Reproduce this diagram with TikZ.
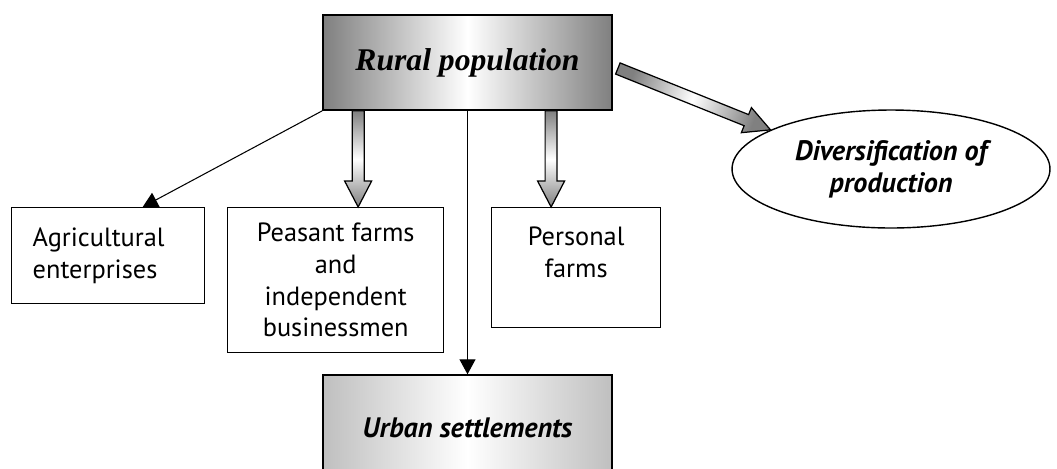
\documentclass[tikz,border=0pt]{standalone}
\usepackage{fontspec}
\setmainfont{Liberation Serif}
\setsansfont{PT Sans}
\usetikzlibrary{shapes.geometric,arrows.meta,calc,positioning}

\newcommand{\fatarrow}[3]{%
  \coordinate (fa-a) at (#1);
  \coordinate (fa-b) at (#2);
  \coordinate (fa-q) at ($(fa-b)!0.52cm!(fa-a)$);
  \draw[fatshade, shading angle=#3]
    ($(fa-a)!0.12cm!90:(fa-b)$) -- ($(fa-q)!0.12cm!90:(fa-b)$)
    -- ($(fa-q)!0.27cm!90:(fa-b)$) -- (fa-b)
    -- ($(fa-q)!0.27cm!-90:(fa-b)$) -- ($(fa-q)!0.12cm!-90:(fa-b)$)
    -- ($(fa-a)!0.12cm!-90:(fa-b)$) -- cycle;}

\begin{document}
\begin{tikzpicture}[x=0.02cm, y=-0.02cm,
  every node/.style={font=\sffamily\fontsize{15}{18}\selectfont},
  farmbox/.style={draw, line width=0.8pt, inner sep=0pt, align=center},
  boldsans/.style={font=\sffamily\bfseries\itshape\fontsize{16}{18}\selectfont},
  thinarrow/.style={line width=0.6pt, -{Triangle[length=0.3cm, width=0.32cm]}},
  fatshade/.style={draw, line width=0.7pt, top color=black!50, bottom color=black!50, middle color=white}]

  \path[use as bounding box, clip] (0,0) rectangle (1057,468);

  \node[farmbox, line width=1pt, minimum width=5.78cm, minimum height=1.9cm,
    left color=black!50, right color=black!50, middle color=white,
    font=\rmfamily\bfseries\itshape\fontsize{18}{22}\selectfont] (rural) at (467.5,62.5) {Rural population};
  \node[farmbox, boldsans, minimum width=5.78cm, minimum height=2.1cm,
    left color=black!25, right color=black!25, middle color=white] (urban) at (467.5,427.5) {Urban settlements};

  \node[farmbox, anchor=north west, align=left, text width=3.02cm, inner xsep=0.42cm,
    minimum height=1.92cm] (agri) at (11,207) {Agricultural\\enterprises};
  \node[farmbox, anchor=north west, minimum width=4.32cm, minimum height=2.9cm] (peasant) at (227,207)
    {Peasant farms\\and\\independent\\businessmen};
  \node[farmbox, anchor=north west, minimum width=3.38cm, minimum height=2.4cm] (personal) at (491,207)
    {Personal\\farms\\\mbox{}};

  \node[draw, ellipse, boldsans, line width=0.8pt, inner sep=0pt, minimum width=6.36cm, minimum height=2.36cm,
    align=center] (divers) at (891,169) {Diversification of\\production};

  % thin arrows
  \draw[thinarrow] (rural.south west) -- ([xshift=0.69cm]agri.north);
  \draw[thinarrow] (rural.south) -- (urban.north);

  % shaded arrows
  \coordinate (fat1) at ([xshift=0.72cm]rural.south west);
  \coordinate (fat2) at ([xshift=4.58cm]rural.south west);
  \fatarrow{fat1}{fat1 |- peasant.north}{0}
  \fatarrow{fat2}{fat2 |- personal.north}{0}
  \fatarrow{[shift={(5,6)}]rural.east}{divers.162}{69}
\end{tikzpicture}
\end{document}
